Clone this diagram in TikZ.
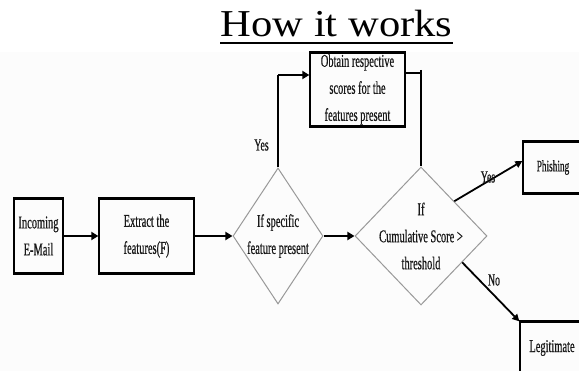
\documentclass[tikz,border=0pt]{standalone}
\usepackage{fontspec}
\setmainfont{Liberation Serif}
\newfontfamily\flowfont[FakeStretch=0.58,FakeBold=0.6]{Liberation Serif}
\newfontfamily\headfont[FakeStretch=1.12]{Liberation Serif}
\usetikzlibrary{arrows.meta,shapes.geometric,positioning,calc}

\tikzset{
  box/.style={draw, line width=1.3pt, inner sep=0pt, align=center,
    text=black!90, font=\flowfont\fontsize{18}{27}\selectfont},
  cond/.style={diamond, draw=black!40, line width=1pt, inner sep=0pt},
  condtext/.style={align=center, inner sep=0pt, text=black!90,
    font=\flowfont\fontsize{18}{27}\selectfont},
  tag/.style={text=black!90, font=\flowfont\fontsize{17}{20}\selectfont},
  flow/.style={-{Triangle[length=7pt,width=8pt]}, line width=2.6pt},
  riser/.style={line width=1.2pt},
  slant/.style={-{Triangle[length=7pt,width=7pt]}, line width=1.8pt}
}

\begin{document}
\begin{tikzpicture}[x=1pt,y=1pt]
  \clip (0,0) rectangle (579,371);
  \fill[black!1] (0,0) rectangle (579,319);

  % Titolo
  \node[inner sep=0pt, anchor=base, font=\headfont\fontsize{38}{40}\selectfont]
    (title) at (336.5,334) {How it works};
  \draw[line width=1.6pt] ([yshift=-6pt]title.base west) -- ([yshift=-6pt]title.base east);

  % Blocchi
  \node[box, minimum width=49pt, minimum height=74pt] (mail) at (38.5,135) {Incoming\\E-Mail};
  \node[box, minimum width=95pt, minimum height=74pt] (extract) at (146.5,135) {Extract the\\features(F)};
  \node[cond, minimum width=90pt, minimum height=136pt,
    label={[condtext]center:{If specific\\feature present}}] (present) at (278,135) {};
  \node[cond, minimum width=132pt, minimum height=138pt,
    label={[condtext]center:{If\\Cumulative Score >\\threshold}}] (score) at (421,135) {};
  \node[box, minimum width=95pt, minimum height=73pt] (obtain) at (357.5,281.5)
    {Obtain respective\\scores for the\\features present};
  \node[box, minimum width=60pt, minimum height=51pt,
    font=\flowfont\fontsize{16}{20}\selectfont] (phish) at (553,203.5) {Phishing};
  \node[box, minimum width=64pt, minimum height=52pt] (legit) at (552,23) {Legitimate};

  % Bordi orizzontali spessi
  \foreach \b in {mail,extract,obtain,phish,legit}
    \draw[line width=2.6pt] (\b.north west) -- (\b.north east) (\b.south west) -- (\b.south east);

  % Collegamenti
  \draw[flow] (mail) -- (extract);
  \draw[flow] (extract) -- (present);
  \draw[flow] (present) -- (score);

  \coordinate (up) at (present.north |- 0,296);
  \draw[riser] (present.north) -- (up);
  \draw[flow] (up) -- (up -| obtain.west);
  \node[tag] (yesup) at (261.5,226) {Yes};

  \coordinate (back) at (score.north |- 0,298);
  \draw[line width=2.6pt] (back -| obtain.east) -- (back);
  \draw[riser] ([yshift=3pt]back) -- (score.north);

  \draw[slant] (score.north east) -- ([yshift=6.5pt]phish.west);
  \node[tag] (yesright) at (488,194) {Yes};
  \draw[slant] ($(score.east)!0.38!(score.south)$) -- (legit.north west);
  \node[tag] (no) at (494,91) {No};
\end{tikzpicture}
\end{document}
